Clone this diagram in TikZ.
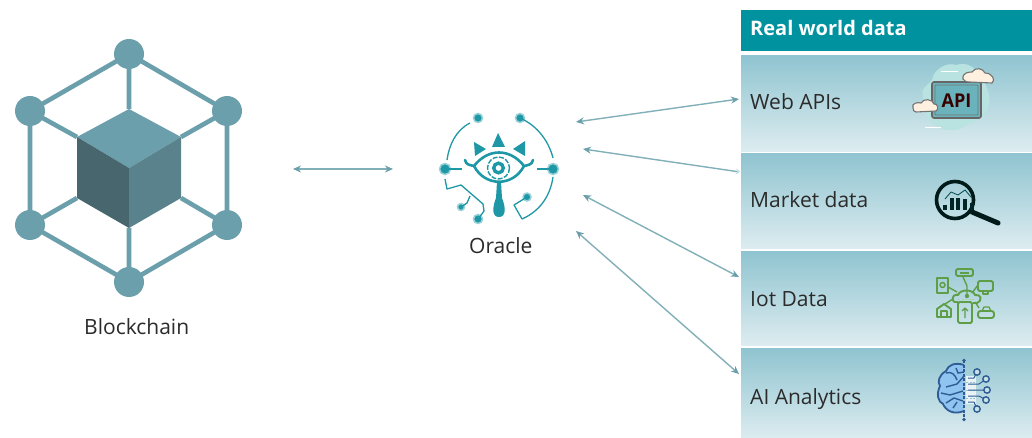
\documentclass[tikz,border=0pt]{standalone}
\usepackage{fontspec}
\setmainfont{Open Sans}
\usetikzlibrary{arrows.meta}
\definecolor{teal1}{HTML}{6B9FAB}
\definecolor{cubeL}{HTML}{47666E}
\definecolor{cubeR}{HTML}{5A828C}
\definecolor{headc}{HTML}{00929E}
\definecolor{panT}{HTML}{8FC4D0}
\definecolor{panB}{HTML}{DDECF0}
\definecolor{arr}{HTML}{82B0B9}
\definecolor{ora}{HTML}{1E98A6}
\definecolor{orh}{HTML}{9AD2D8}
\definecolor{txt}{HTML}{2B2B2B}
\definecolor{grn}{HTML}{5E9E46}
\definecolor{bld}{HTML}{2F5C94}
\definecolor{blf}{HTML}{8FC3F0}
\definecolor{apic}{HTML}{B9E3E0}
\tikzset{
 x=1pt,y=-1pt,
 hexnode/.style={circle,fill=teal1,minimum size=30pt,inner sep=0pt},
 hexline/.style={draw=teal1,line width=4.6pt},
 lab/.style={text=txt,font=\fontsize{21}{25}\selectfont,inner sep=0pt,anchor=base west},
 panel/.style={rectangle,inner sep=0pt,anchor=north west,minimum width=291pt,top color=panT,bottom color=panB},
 link/.style={draw=arr,line width=1.4pt,{Stealth[length=8pt,width=7pt,color=teal1]}-{Stealth[length=8pt,width=7pt,color=teal1]}},
 orl/.style={draw=ora,line width=1.3pt,line join=round},
 ordot/.style={circle,fill=ora,inner sep=0pt,draw=orh,line width=1.5pt},
 grl/.style={draw=grn,line width=1.9pt,fill=none,line join=round},
 brl/.style={draw=bld,line width=1.4pt},
}
\begin{document}
\begin{tikzpicture}
\useasboundingbox (0,0) rectangle (1032,438);
\fill[white] (0,0) rectangle (1032,438);
% blockchain
\coordinate (ctop) at (129,109);
\coordinate (cleft) at (77,137);
\coordinate (cright) at (181,137);
\coordinate (cmid) at (129,168);
\coordinate (cll) at (77,198);
\coordinate (clr) at (181,198);
\coordinate (cbot) at (129,228);
\node[hexnode] (ht) at (129,54) {};
\node[hexnode] (hul) at (30,111) {};
\node[hexnode] (hur) at (227,111) {};
\node[hexnode] (hll) at (30,225) {};
\node[hexnode] (hlr) at (227,225) {};
\node[hexnode] (hb) at (129,282) {};
\draw[hexline] (ht.center)--(hur.center)--(hlr.center)--(hb.center)--(hll.center)--(hul.center)--cycle;
\draw[hexline] (ht.center)--(ctop) (hul.center)--(cleft) (hur.center)--(cright) (hll.center)--(cll) (hlr.center)--(clr) (hb.center)--(cbot);
\fill[teal1] (ctop)--(cright)--(cmid)--(cleft)--cycle;
\fill[cubeL] (cleft)--(cmid)--(cbot)--(cll)--cycle;
\fill[cubeR] (cright)--(cmid)--(cbot)--(clr)--cycle;
\node[lab] (blockchain) at (84,334) {Blockchain};
% oracle
\node[ordot,minimum size=9pt] (o1) at (478,118) {};
\node[ordot,minimum size=9pt] (o2) at (520,118) {};
\node[ordot,minimum size=11pt] (o3) at (445,169) {};
\node[ordot,minimum size=11pt] (o4) at (553,169) {};
\node[ordot,minimum size=7pt] (o5) at (461,207) {};
\node[ordot,minimum size=9pt] (o6) at (478,219) {};
\node[ordot,minimum size=8pt] (o7) at (527,197) {};
\draw[orl] (470,123) .. controls (456,130) and (449,145) .. (447,160);
\draw[orl] (o2.center) .. controls (538,126) and (549,142) .. (553,158);
\draw[orl] (o3.center)--(462,169);
\draw[orl] (o4.center)--(537,169);
\draw[orl] (445,179)--(447,189)--(461,185)--(483,204)--(484,211)--(o6.center);
\draw[orl] (470,196)--(467,203)--(o5.center);
\draw[orl] (o7.center)--(514,205)--(522,219) .. controls (538,212) and (550,198) .. (553,177);
% eye
\fill[ora] (498,133) -- (505,147) -- (492,147) -- cycle;
\fill[ora] (474,142) -- (486,149) -- (475,156) -- cycle;
\fill[ora] (525,141) -- (513,149) -- (525,156) -- cycle;
\draw[ora,line width=2.6pt,line cap=round] (465,160) .. controls (466,165) and (470,165) .. (474,166) .. controls (488,148) and (510,148) .. (524,166) .. controls (528,165) and (532,165) .. (533,160);
\draw[ora,line width=2.6pt] (474,166) .. controls (485,187) and (513,187) .. (524,166);
\draw[ora,line width=1.4pt,dash pattern=on 5pt off 1.5pt] (498.5,168) circle (11);
\draw[ora,line width=3.4pt] (498.5,168) circle (4.8);
\fill[ora] (497,182) -- (501,182) -- (502,198) .. controls (506,208) and (506,217) .. (499,217) .. controls (492,217) and (492,208) .. (496,198) -- cycle;
\node[lab] (oracle) at (469,253) {Oracle};
% panels
\node[rectangle,fill=headc,inner sep=0pt,anchor=north west,minimum width=291pt,minimum height=41pt] (head) at (741,10) {};
\node[anchor=base west,inner sep=0pt,text=white,font=\fontsize{20}{24}\selectfont\bfseries] (headt) at (750,36) {Real world data};
\node[panel,minimum height=96pt] (p1) at (741,55) {};
\node[panel,minimum height=95pt] (p2) at (741,153) {};
\node[panel,minimum height=94pt] (p3) at (741,251) {};
\node[panel,minimum height=90pt] (p4) at (741,348) {};
\node[lab] (t1) at (750,110) {Web APIs};
\node[lab] (t2) at (750,208) {Market data};
\node[lab] (t3) at (750,306) {Iot Data};
\node[lab] (t4) at (750,404) {AI Analytics};
% arrows
\coordinate (bcR) at (293,169);
\coordinate (orL) at (393,169);
\draw[link] (bcR)--(orL);
\coordinate (a1) at (576,122); \coordinate (b1) at (739,99);
\coordinate (a2) at (583,149); \coordinate (b2) at (740,172);
\coordinate (a3) at (583,195); \coordinate (b3) at (739,277);
\coordinate (a4) at (576,231); \coordinate (b4) at (739,374);
\draw[link] (a1)--(b1);
\draw[draw=arr,line width=1.4pt,{Stealth[length=8pt,width=7pt,color=teal1]}-{Stealth[length=4pt,width=6pt,color=panT!40!panB]}] (a2)--(b2);
\draw[link] (a3)--(b3);
\draw[link] (a4)--(b4);
% API icon
\fill[apic] (923,95) .. controls (920,88) and (930,84) .. (932,80) .. controls (934,68) and (948,62) .. (956,65) .. controls (966,62) and (972,66) .. (978,72) .. controls (988,85) and (992,100) .. (988,108) .. controls (985,118) and (975,122) .. (968,124) .. controls (960,132) and (945,132) .. (936,126) .. controls (928,122) and (924,112) .. (923,95) -- cycle;
\draw[draw=black!60,fill=panT!75!teal,line width=1.6pt,rounded corners=2pt] (932,82) rectangle (981,118);
\draw[black!55,line width=.7pt,rounded corners=1pt] (935,85) rectangle (978,115);
\node[font=\fontsize{19}{22}\selectfont,text=black!70!red!70!black,inner sep=0pt,xscale=.95] (apit) at (956.5,100.5) {\textbf{API}};
\draw[draw=black!55,fill=white!88!orange,line width=1.1pt] (913,108) .. controls (911,103) and (918,102) .. (921,103) .. controls (923,98) and (933,99) .. (934,104) .. controls (938,103) and (939,110) .. (936,111) -- (916,112) .. controls (914,112) and (913,110) .. (913,108) -- cycle;
\draw[draw=black!55,fill=white!88!orange,line width=1.1pt] (963,79) .. controls (962,72) and (970,72) .. (972,72) .. controls (975,67) and (983,68) .. (985,73) .. controls (992,73) and (996,80) .. (992,83) -- (970,82) .. controls (966,82) and (964,81) .. (963,79) -- cycle;
\draw[white,line width=1pt] (941,72)--(958,72) (925,128)--(941,128);
% magnifier
\draw[draw=black!80!teal,line width=3.6pt] (955,200) circle (18.5);
\draw[draw=black!80!teal,line width=5pt,line cap=round] (972,212)--(998,223);
\foreach \xx/\yy in {945/205,952/198,958/198,965/199,972/203}{\fill[black!70!teal] (\xx-1.6,\yy) rectangle (\xx+1.6,210);}
\draw[black!40!teal,line width=.8pt] (945,199)--(951,192)--(958,195)--(965,190)--(971,197);
% IoT
\draw[grl,rounded corners=1.5pt] (956,269) rectangle (973,276);
\draw[grl,line width=1.2pt] (960,273)--(969,273);
\draw[grl] (937,278) rectangle (948,293);
\draw[grl,line width=1.5pt] (942.5,285) circle (2.5);
\draw[grl,rounded corners=1.5pt] (978,281) rectangle (993,291);
\draw[grl] (983,291)--(983,294)--(988,294)--(988,291);
\draw[grl] (937,317)--(937,309)--(944,304)--(951,309)--(951,317)--cycle;
\draw[grl] (941,317)--(941,311)--(947,311)--(947,317);
\draw[grl,rounded corners=1.5pt] (958,302) rectangle (972,323);
\draw[grl,line width=1.3pt] (965,308)--(965,318) (962,311)--(965,308)--(968,311);
\draw[grl,rounded corners=2.5pt] (978,311) rectangle (994,318);
\draw[grl,line width=1.2pt] (982,311)--(984,307)--(989,307)--(991,311);
\draw[grl] (954,302) .. controls (950,296) and (956,294) .. (958,295) .. controls (960,289) and (973,289) .. (975,295) .. controls (981,294) and (983,300) .. (977,303) -- (973,303);
\draw[grl] (954,302)--(958,302);
\draw[grl,line width=1.4pt] (948,287)--(957,292) (963,277)--(967,286)--(967,296) (978,285)--(972,293) (945,304)--(953,299) (979,308)--(975,302);
\fill[grn] (967,296) circle (2.2);
\draw[white!50!grn,line width=1pt,dash pattern=on 2pt off 1.5pt] (958,299)--(975,299);
% brain
\fill[blf] (964,365) .. controls (955,362) and (948,365) .. (946,371) .. controls (939,375) and (937,382) .. (940,386) .. controls (936,394) and (938,402) .. (943,404) .. controls (946,411) and (954,415) .. (964,411) -- cycle;
\draw[brl,line width=1.8pt] (964,365) .. controls (955,362) and (948,365) .. (946,371) .. controls (939,375) and (937,382) .. (940,386) .. controls (936,394) and (938,402) .. (943,404) .. controls (946,411) and (954,415) .. (964,411);
\draw[brl] (946,373) .. controls (952,371) and (955,375) .. (957,380) (964,376)--(957,384)--(946,387) (941,393)--(950,395)--(963,391) (946,403)--(954,398)--(963,401) (953,408)--(957,402) (956,368)--(958,373)--(964,372);
\draw[brl,dash pattern=on 3pt off 1.5pt] (964,360)--(964,420);
\fill[bld] (964,360.5) circle (1.8) (964,419.5) circle (1.8);
\fill[white!80!panT] (966,376) rectangle (976,404);
\draw[panT,line width=.8pt,dash pattern=on 2pt off 1.5pt] (966,382)--(976,382) (966,390)--(976,390) (966,398)--(976,398);
\draw[bld,line width=1pt,line join=round] (977,372)--(974,378)--(968,378) (986,379)--(979,384)--(968,384) (987,390)--(968,390) (986,400)--(979,396)--(968,396) (977,409)--(974,402)--(968,402);
\foreach \xx/\yy in {977/372,986/379,987/390,986/400,977/409}{
 \draw[brl,fill=panT!50!white] (\xx,\yy) circle (3.2);
}
\end{tikzpicture}
\end{document}
